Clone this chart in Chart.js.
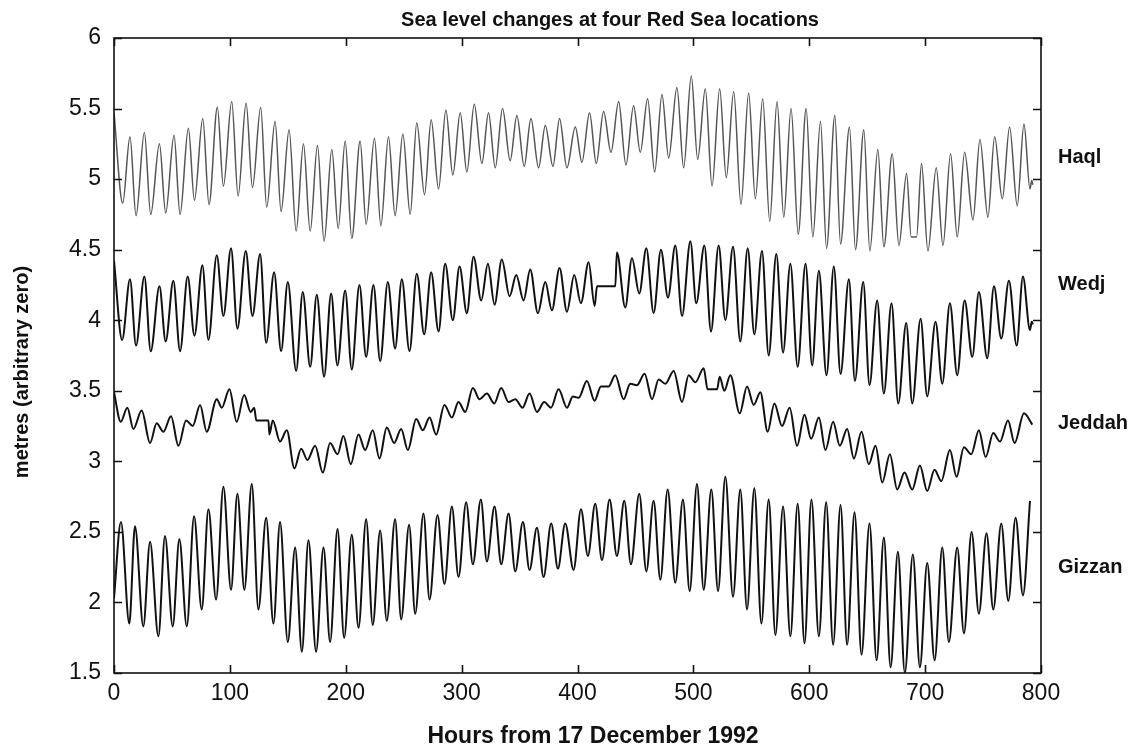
<!DOCTYPE html>
<html>
<head>
<meta charset="utf-8">
<script src="https://cdn.jsdelivr.net/npm/chart.js@4.4.1/dist/chart.umd.min.js"></script>
<style>
  html, body { margin: 0; padding: 0; background: #fff; }
  #tideChart { display: block; }
</style>
</head>
<body>
<canvas id="tideChart" width="1133" height="749"></canvas>
<script>
// DATA -------------------------------------------------------------------------------
// extrema: hours since 17 Dec 1992, level in metres (arbitrary zero)
const stationNames = ["Haql", "Wedj", "Jeddah", "Gizzan"];
const xTickValues = [0, 100, 200, 300, 400, 500, 600, 700, 800];
const yTickValues = [1.5, 2, 2.5, 3, 3.5, 4, 4.5, 5, 5.5, 6];

const haqlHours = [0, 7.5, 13.8, 19.0, 26.2, 31.7, 39.2, 44.6, 51.8, 57.0, 64.2, 69.4, 76.6, 82.0, 89.2, 94.4, 101.6, 107.1, 114.0, 119.5,
    126.6, 131.8, 139.0, 144.2, 151.1, 157.2, 163.5, 169.3, 175.6, 181.3, 188.0, 193.5, 199.5, 205.2, 212.4, 217.6, 224.8, 230.3, 236.9, 242.6,
    249.3, 255.6, 261.3, 268.0, 273.7, 280.1, 286.4, 292.4, 298.8, 304.5, 310.9, 317.5, 323.2, 329.0, 335.3, 341.9, 347.7, 354.0, 359.8, 366.4,
    372.2, 378.8, 384.5, 390.9, 398.1, 403.8, 410.4, 416.2, 422.5, 428.9, 435.5, 441.8, 448.4, 454.2, 460.5, 466.6, 472.9, 478.7, 485.8, 491.6,
    498.2, 503.7, 510.3, 516.1, 522.7, 528.4, 534.8, 541.1, 547.7, 553.5, 559.8, 565.9, 572.2, 578.0, 584.3, 590.5, 597.3, 603.1, 609.7, 614.9,
    622.1, 627.0, 634.7, 639.9, 647.1, 652.3, 659.2, 664.4, 671.6, 677.4, 684.0, 688.0, 692.6, 696.9, 702.4, 709.6, 715.4, 722.0, 727.7, 734.1,
    741.3, 747.3, 754.2, 760.0, 766.6, 772.9, 779.5, 785.3, 790.5, 792.0, 793.0];
const haqlLevels = [5.47, 4.83, 5.30, 4.74, 5.33, 4.75, 5.25, 4.76, 5.31, 4.75, 5.36, 4.85, 5.43, 4.82, 5.51, 4.95, 5.55, 4.88, 5.54, 4.94,
    5.51, 4.80, 5.41, 4.77, 5.35, 4.63, 5.25, 4.63, 5.24, 4.56, 5.21, 4.65, 5.27, 4.58, 5.27, 4.68, 5.29, 4.67, 5.30, 4.74,
    5.32, 4.75, 5.40, 4.89, 5.42, 4.93, 5.49, 5.03, 5.47, 5.05, 5.53, 5.11, 5.47, 5.08, 5.50, 5.13, 5.45, 5.09, 5.43, 5.08,
    5.38, 5.09, 5.43, 5.08, 5.37, 5.12, 5.47, 5.11, 5.48, 5.19, 5.55, 5.10, 5.52, 5.19, 5.57, 5.05, 5.60, 5.15, 5.65, 5.08,
    5.73, 5.14, 5.64, 4.95, 5.64, 5.01, 5.62, 4.82, 5.61, 4.86, 5.57, 4.70, 5.55, 4.73, 5.50, 4.61, 5.50, 4.59, 5.41, 4.51,
    5.45, 4.54, 5.37, 4.50, 5.35, 4.49, 5.21, 4.52, 5.18, 4.53, 5.04, 4.59, 4.59, 5.11, 4.49, 5.08, 4.53, 5.18, 4.59, 5.19,
    4.71, 5.28, 4.73, 5.30, 4.86, 5.37, 4.81, 5.39, 4.93, 4.99, 4.96];

const wedjHours = [0, 7.0, 13.8, 19.0, 26.2, 31.7, 39.2, 44.6, 51.2, 57.0, 63.6, 69.4, 76.3, 81.5, 88.7, 94.4, 101.0, 106.5, 113.7, 119.5,
    126.1, 131.3, 138.2, 144.2, 150.0, 157.2, 162.9, 169.3, 175.0, 181.3, 187.4, 192.8, 199.5, 205.2, 211.8, 217.6, 223.9, 229.7, 236.3, 242.6,
    248.4, 255.0, 261.3, 267.7, 273.7, 280.1, 285.8, 292.4, 298.2, 304.5, 310.3, 316.9, 322.7, 328.4, 334.7, 341.4, 347.1, 353.5, 359.2, 365.8,
    372.2, 377.9, 384.5, 390.9, 397.2, 402.9, 409.6, 414.8, 416.8, 432.6, 434.0, 441.2, 447.0, 453.3, 459.4, 465.7, 472.0, 478.1, 484.4, 490.2,
    497.4, 502.5, 509.5, 515.2, 521.8, 527.6, 534.2, 540.5, 546.9, 552.6, 559.2, 565.0, 571.6, 577.4, 583.7, 590.0, 596.8, 602.5, 608.3, 614.9,
    621.2, 627.0, 634.2, 639.4, 646.6, 652.0, 658.6, 664.4, 671.0, 676.8, 683.7, 688.9, 696.1, 701.8, 709.0, 714.8, 721.4, 727.7, 734.1, 740.7,
    746.4, 753.6, 759.4, 765.7, 772.3, 779.0, 784.4, 790.5, 792.0, 793.0];
const wedjLevels = [4.42, 3.86, 4.29, 3.82, 4.31, 3.78, 4.24, 3.85, 4.28, 3.78, 4.31, 3.89, 4.39, 3.86, 4.46, 4.03, 4.51, 3.94, 4.49, 4.03,
    4.47, 3.84, 4.34, 3.78, 4.27, 3.64, 4.20, 3.67, 4.18, 3.60, 4.19, 3.68, 4.21, 3.65, 4.25, 3.74, 4.25, 3.71, 4.27, 3.80,
    4.29, 3.78, 4.33, 3.90, 4.34, 3.92, 4.40, 4.00, 4.38, 4.05, 4.45, 4.14, 4.40, 4.11, 4.43, 4.17, 4.32, 4.14, 4.36, 4.05,
    4.27, 4.07, 4.37, 4.06, 4.32, 4.12, 4.41, 4.10, 4.24, 4.24, 4.48, 4.09, 4.44, 4.19, 4.51, 4.05, 4.50, 4.16, 4.53, 4.03,
    4.56, 4.12, 4.53, 3.92, 4.53, 4.00, 4.52, 3.85, 4.51, 3.90, 4.49, 3.75, 4.47, 3.77, 4.40, 3.67, 4.40, 3.68, 4.35, 3.61,
    4.38, 3.62, 4.29, 3.57, 4.27, 3.54, 4.14, 3.48, 4.12, 3.41, 3.98, 3.41, 4.01, 3.46, 3.99, 3.55, 4.12, 3.61, 4.14, 3.74,
    4.20, 3.73, 4.24, 3.87, 4.28, 3.82, 4.31, 3.93, 3.99, 3.97];

const jeddahHours = [0, 5.8, 11.5, 16.7, 23.9, 31.1, 36.8, 42.6, 49.2, 55.6, 62.2, 67.9, 74.3, 80.0, 88.7, 93.0, 99.6, 105.9, 112.3, 118.0,
    121.0, 122.8, 133.3, 134.1, 137.0, 143.3, 149.1, 155.7, 161.5, 166.9, 173.6, 180.2, 186.5, 192.9, 198.0, 204.3, 211.0, 216.7, 223.3, 229.1,
    235.4, 241.8, 247.8, 253.6, 260.8, 266.5, 272.3, 278.0, 285.2, 291.6, 297.3, 303.1, 309.7, 315.5, 321.8, 328.1, 334.2, 340.5, 346.3, 352.6,
    358.6, 365.0, 371.3, 377.1, 383.7, 390.9, 396.0, 401.0, 408.1, 414.7, 420.2, 426.8, 432.6, 439.8, 445.5, 451.3, 457.9, 464.3, 470.0, 475.8,
    483.0, 490.2, 495.9, 501.7, 508.9, 512.3, 520.4, 522.7, 526.7, 531.9, 540.0, 546.3, 552.1, 557.8, 564.1, 569.9, 576.5, 583.1, 589.5, 595.9,
    601.6, 608.3, 614.0, 620.6, 626.4, 632.7, 638.5, 645.1, 651.4, 657.2, 663.0, 669.6, 675.9, 682.2, 688.9, 695.5, 701.8, 708.1, 713.9, 721.4,
    727.1, 733.5, 739.8, 746.4, 752.2, 758.8, 764.6, 771.5, 777.2, 785.3, 792.5];
const jeddahLevels = [3.49, 3.28, 3.38, 3.23, 3.36, 3.13, 3.27, 3.21, 3.32, 3.11, 3.29, 3.25, 3.40, 3.21, 3.44, 3.38, 3.51, 3.28, 3.47, 3.35,
    3.38, 3.29, 3.29, 3.19, 3.29, 3.14, 3.22, 2.95, 3.09, 3.01, 3.11, 2.92, 3.13, 3.05, 3.18, 2.98, 3.19, 3.08, 3.22, 3.02,
    3.24, 3.13, 3.23, 3.08, 3.30, 3.22, 3.31, 3.19, 3.40, 3.31, 3.42, 3.35, 3.52, 3.44, 3.48, 3.41, 3.52, 3.42, 3.44, 3.38,
    3.48, 3.35, 3.42, 3.38, 3.51, 3.38, 3.46, 3.45, 3.57, 3.43, 3.53, 3.53, 3.61, 3.44, 3.55, 3.54, 3.62, 3.44, 3.58, 3.55,
    3.64, 3.42, 3.61, 3.56, 3.66, 3.51, 3.51, 3.60, 3.50, 3.61, 3.34, 3.53, 3.40, 3.49, 3.21, 3.41, 3.25, 3.38, 3.11, 3.33,
    3.16, 3.31, 3.08, 3.28, 3.11, 3.23, 3.02, 3.21, 2.98, 3.11, 2.85, 3.05, 2.80, 2.92, 2.80, 2.97, 2.79, 2.94, 2.86, 3.08,
    2.89, 3.10, 3.05, 3.22, 3.03, 3.20, 3.14, 3.29, 3.13, 3.34, 3.26];

const gizzanHours = [0, 6.0, 13.2, 18.1, 25.3, 31.1, 38.3, 44.0, 50.7, 56.4, 62.8, 69.1, 75.7, 81.5, 88.1, 94.4, 101.0, 106.5, 112.5, 118.9,
    124.6, 131.3, 137.6, 143.3, 150.0, 156.3, 162.1, 167.8, 174.4, 180.8, 186.5, 192.9, 198.6, 205.2, 211.0, 217.6, 223.3, 229.7, 235.4, 242.6,
    247.8, 254.7, 259.9, 267.1, 272.3, 279.2, 285.2, 291.6, 297.3, 303.9, 309.7, 316.6, 321.8, 328.4, 334.2, 340.5, 346.3, 352.9, 358.6, 365.0,
    370.7, 377.3, 383.1, 389.4, 396.6, 403.0, 409.0, 415.3, 421.1, 427.7, 434.0, 440.4, 446.1, 453.3, 459.4, 465.7, 471.5, 477.8, 484.4, 491.0,
    496.8, 503.1, 508.9, 515.5, 521.3, 527.6, 534.2, 540.5, 546.3, 552.6, 558.7, 565.0, 570.8, 577.4, 583.7, 590.0, 595.9, 601.9, 608.3, 614.6,
    620.6, 627.0, 632.7, 639.1, 645.1, 652.0, 658.1, 664.4, 670.2, 676.5, 682.5, 689.4, 695.5, 701.8, 708.2, 714.8, 720.5, 727.7, 733.5, 740.1,
    746.4, 753.0, 758.8, 765.7, 771.8, 778.1, 784.4, 790.5];
const gizzanLevels = [2.03, 2.57, 1.85, 2.54, 1.83, 2.43, 1.76, 2.47, 1.83, 2.45, 1.83, 2.61, 1.95, 2.66, 2.02, 2.82, 2.09, 2.77, 2.09, 2.84,
    1.95, 2.60, 1.85, 2.57, 1.72, 2.39, 1.65, 2.44, 1.65, 2.39, 1.72, 2.52, 1.75, 2.48, 1.82, 2.59, 1.84, 2.51, 1.87, 2.59,
    1.88, 2.55, 1.92, 2.63, 2.02, 2.62, 2.13, 2.68, 2.18, 2.71, 2.27, 2.73, 2.29, 2.68, 2.27, 2.63, 2.22, 2.57, 2.23, 2.53,
    2.18, 2.56, 2.24, 2.56, 2.23, 2.66, 2.33, 2.70, 2.30, 2.73, 2.33, 2.72, 2.27, 2.77, 2.22, 2.72, 2.16, 2.80, 2.14, 2.73,
    2.08, 2.84, 2.09, 2.80, 2.08, 2.89, 2.04, 2.80, 1.95, 2.81, 1.85, 2.73, 1.77, 2.68, 1.76, 2.70, 1.71, 2.73, 1.76, 2.71,
    1.70, 2.69, 1.70, 2.64, 1.63, 2.56, 1.59, 2.46, 1.54, 2.36, 1.50, 2.34, 1.54, 2.28, 1.59, 2.39, 1.72, 2.39, 1.78, 2.50,
    1.92, 2.49, 1.95, 2.56, 2.01, 2.60, 2.05, 2.72];

// CHART ------------------------------------------------------------------------------
const FONT = "'Liberation Sans', Arial, Helvetica, sans-serif";

function toPoints(hours, levels) {
    return hours.map((h, i) => ({ x: h, y: levels[i] }));
}

// frame with inward ticks on all four sides + the figure texts
const framePlugin = {
    id: 'frame',
    afterDraw(chart) {
        const { ctx, chartArea: a, scales: { x, y } } = chart;
        ctx.save();
        ctx.strokeStyle = '#111';
        ctx.lineWidth = 1.6;
        ctx.strokeRect(a.left, a.top, a.right - a.left, a.bottom - a.top);
        ctx.beginPath();
        xTickValues.forEach(v => {
            const px = Math.round(x.getPixelForValue(v)) + 0.5;
            ctx.moveTo(px, a.bottom); ctx.lineTo(px, a.bottom - 8);
            ctx.moveTo(px, a.top); ctx.lineTo(px, a.top + 8);
        });
        yTickValues.forEach(v => {
            const py = Math.round(y.getPixelForValue(v)) + 0.5;
            ctx.moveTo(a.left, py); ctx.lineTo(a.left + 8, py);
            ctx.moveTo(a.right, py); ctx.lineTo(a.right - 8, py);
        });
        ctx.stroke();

        ctx.fillStyle = '#111';
        ctx.textAlign = 'center';
        ctx.textBaseline = 'alphabetic';
        ctx.font = 'bold 20px ' + FONT;
        ctx.fillText('Sea level changes at four Red Sea locations', 610, 26);

        ctx.font = 'bold 23px ' + FONT;
        ctx.fillText('Hours from 17 December 1992', 593, 743);

        ctx.save();
        ctx.translate(28, 372);
        ctx.rotate(-Math.PI / 2);
        ctx.font = 'bold 20px ' + FONT;
        ctx.fillText('metres (arbitrary zero)', 0, 0);
        ctx.restore();

        // station names at the right, beside each trace
        const labelLevels = [5.15, 4.25, 3.27, 2.25];
        ctx.textAlign = 'left';
        ctx.textBaseline = 'middle';
        ctx.font = 'bold 20px ' + FONT;
        stationNames.forEach((name, i) => {
            ctx.fillText(name, 1058, y.getPixelForValue(labelLevels[i]));
        });
        ctx.restore();
    }
};

const lineStyle = {
    pointRadius: 0,
    fill: false,
    cubicInterpolationMode: 'monotone',
    borderJoinStyle: 'round'
};

new Chart(document.getElementById('tideChart'), {
    type: 'line',
    data: {
        datasets: [
            { label: stationNames[0], data: toPoints(haqlHours, haqlLevels), borderColor: '#555555', borderWidth: 1.5, ...lineStyle },
            { label: stationNames[1], data: toPoints(wedjHours, wedjLevels), borderColor: '#111111', borderWidth: 2, ...lineStyle },
            { label: stationNames[2], data: toPoints(jeddahHours, jeddahLevels), borderColor: '#111111', borderWidth: 2, ...lineStyle },
            { label: stationNames[3], data: toPoints(gizzanHours, gizzanLevels), borderColor: '#111111', borderWidth: 2, ...lineStyle }
        ]
    },
    options: {
        responsive: false,
        animation: false,
        devicePixelRatio: 1,
        layout: { padding: { top: 38, right: 92, bottom: 0, left: 0 } },
        plugins: { legend: { display: false }, tooltip: { enabled: false }, title: { display: false } },
        scales: {
            x: {
                type: 'linear',
                min: 0,
                max: 800,
                grid: { display: false, drawTicks: false },
                border: { display: false },
                ticks: { color: '#111', font: { family: FONT, size: 23 }, padding: 7, maxRotation: 0 },
                afterBuildTicks: s => { s.ticks = xTickValues.map(v => ({ value: v })); },
                afterFit: s => { s.height = 76; }
            },
            y: {
                type: 'linear',
                min: 1.5,
                max: 6,
                grid: { display: false, drawTicks: false },
                border: { display: false },
                ticks: { color: '#111', font: { family: FONT, size: 23 }, padding: 13, callback: v => String(v) },
                afterBuildTicks: s => { s.ticks = yTickValues.map(v => ({ value: v })); },
                afterFit: s => { s.width = 114; }
            }
        }
    },
    plugins: [framePlugin]
});
</script>
</body>
</html>
